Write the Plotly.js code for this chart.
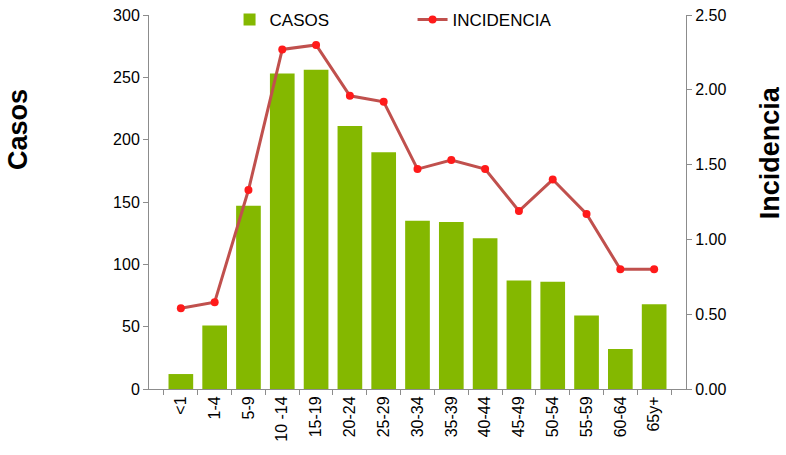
<!DOCTYPE html>
<html>
<head>
<meta charset="utf-8">
<script src="https://cdn.plot.ly/plotly-3.0.1.min.js"></script>
<style>html,body{margin:0;padding:0;background:#fff;}#chart{width:786px;height:455px;}</style>
</head>
<body>
<div id="chart"></div>
<script>
const categories = ["<1","1-4","5-9","10 -14","15-19","20-24","25-29","30-34","35-39","40-44","45-49","50-54","55-59","60-64","65y+"];
const casos = [12, 51, 147, 253, 256, 211, 190, 135, 134, 121, 87, 86, 59, 32, 68];
const incidencia = [0.54, 0.58, 1.33, 2.27, 2.30, 1.96, 1.92, 1.47, 1.53, 1.47, 1.19, 1.40, 1.17, 0.80, 0.80];
const leftTicks = [0, 50, 100, 150, 200, 250, 300];
const rightTicks = [0, 0.5, 1.0, 1.5, 2.0, 2.5];
const leftTitle = "Casos";
const rightTitle = "Incidencia";

const font = "Liberation Sans, Arial, sans-serif";
const traces = [
  {
    type: "bar", name: "CASOS", x: categories, y: casos,
    marker: {color: "#84b800", line: {width: 0}},
    yaxis: "y"
  },
  {
    type: "scatter", mode: "lines+markers", name: "INCIDENCIA", x: categories, y: incidencia,
    line: {color: "#c0504d", width: 3},
    marker: {color: "#ff1a1a", size: 8},
    yaxis: "y2"
  }
];
const titleFont = {size: 27, family: font, weight: "bold", color: "#000"};
const layout = {
  width: 786, height: 455,
  margin: {l: 149, r: 100, t: 15, b: 66, autoexpand: false},
  paper_bgcolor: "#fff", plot_bgcolor: "#fff",
  font: {family: font, color: "#000", size: 16},
  bargap: 0.27,
  showlegend: true,
  legend: {
    orientation: "h", x: 0.15, xanchor: "left",
    yref: "container", y: 0.956, yanchor: "middle",
    bgcolor: "rgba(0,0,0,0)", font: {size: 17, family: font},
    entrywidth: 138, entrywidthmode: "pixels", itemwidth: 30
  },
  xaxis: {
    type: "category", tickangle: -90, showline: true, linecolor: "#8c8c8c", linewidth: 1,
    ticks: "outside", ticklen: 5, tickcolor: "#8c8c8c", tickson: "boundaries",
    showgrid: false, zeroline: false, tickfont: {size: 16}, automargin: false
  },
  yaxis: {
    range: [0, 300], tickvals: leftTicks, ticktext: leftTicks.map(String),
    showline: true, linecolor: "#8c8c8c", ticks: "outside", ticklen: 5, tickcolor: "#8c8c8c",
    showgrid: false, zeroline: false, tickfont: {size: 16}, automargin: false
  },
  yaxis2: {
    overlaying: "y", side: "right", range: [0, 2.5], tickvals: rightTicks,
    ticktext: rightTicks.map(v => v.toFixed(2)),
    showline: true, linecolor: "#8c8c8c", ticks: "outside", ticklen: 5, tickcolor: "#8c8c8c",
    showgrid: false, zeroline: false, tickfont: {size: 16}, automargin: false
  },
  annotations: [
    {text: leftTitle, xref: "paper", yref: "paper", x: -0.244, y: 0.695,
     xanchor: "center", yanchor: "middle", textangle: -90, showarrow: false, font: titleFont},
    {text: rightTitle, xref: "paper", yref: "paper", x: 1.157, y: 0.631,
     xanchor: "center", yanchor: "middle", textangle: -90, showarrow: false, font: titleFont}
  ]
};
Plotly.newPlot("chart", traces, layout, {displayModeBar: false, staticPlot: true});
</script>
</body>
</html>
